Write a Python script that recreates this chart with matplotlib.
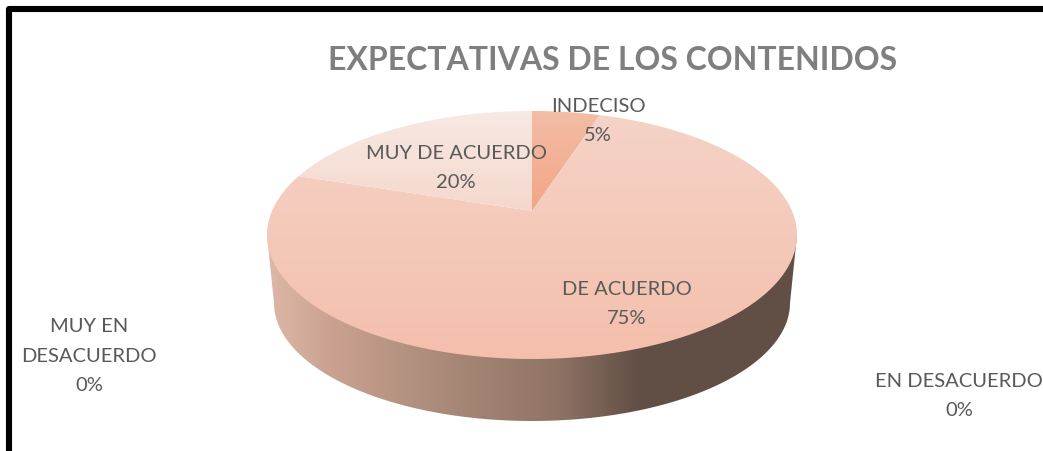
import numpy as np
import matplotlib
matplotlib.use("Agg")
import matplotlib.pyplot as plt
from matplotlib.colors import LinearSegmentedColormap
from matplotlib.patches import Polygon

plt.rcParams['font.family'] = ['Lato', 'DejaVu Sans']

# Chart data, in the order the slices go round clockwise from 12 o'clock
categories = ['INDECISO', 'DE ACUERDO', 'MUY DE ACUERDO', 'EN DESACUERDO', 'MUY EN DESACUERDO']
values = [5, 75, 20, 0, 0]
label_text = ['INDECISO\n5%', 'DE ACUERDO\n75%', 'MUY DE ACUERDO\n20%', 'EN DESACUERDO\n0%', 'MUY EN\nDESACUERDO\n0%']
title = 'EXPECTATIVAS DE LOS CONTENIDOS'

label_pos = [(598, 121), (627, 304), (456, 168), (959, 396), (89, 356)]
slice_colors = [('#F2BDA6', '#F4A585'), ('#F4D3C7', '#F5BFAC'), ('#F7E9E3', '#F5D8CD')]

# Pixel geometry of the tilted pie
CX, APEX_Y = 532, 211
RX, RY, PERSP = 260, 119.35, 0.1935
WALL_CY, WALL_RX, WALL_RY = 303, 258, 118


def project(angle):
    # angle is clockwise from the top of the disc, in radians
    u, v = np.sin(angle), np.cos(angle)
    d = 1 + PERSP * v
    return CX + RX * u / d, APEX_Y - RY * v / d


def gradient_fill(ax, xy, stops, vertical=True):
    xs, ys = xy[:, 0], xy[:, 1]
    cmap = LinearSegmentedColormap.from_list('g', stops)
    grad = np.linspace(0, 1, 256)
    grad = grad[:, None] if vertical else grad[None, :]
    im = ax.imshow(grad, cmap=cmap, vmin=0, vmax=1, aspect='auto', origin='upper',
                   extent=(xs.min(), xs.max(), ys.max(), ys.min()), interpolation='bilinear')
    clip = Polygon(xy, closed=True, transform=ax.transData, facecolor='none', edgecolor='none')
    ax.add_patch(clip)
    im.set_clip_path(clip)


fig = plt.figure(figsize=(10.43, 4.51), dpi=100, facecolor='white')
ax = fig.add_axes([0, 0, 1, 1])

# Side wall of the pie
t = np.linspace(-np.pi / 2, np.pi / 2, 200)
wall_x = CX + WALL_RX * np.sin(t)
wall_y = WALL_CY + WALL_RY * np.cos(t)
wall = np.vstack([[[CX - 265, 235]], np.column_stack([wall_x, wall_y]), [[CX + 265, 235]]])
wall_stops = [(0.0, '#DDB7A7'), (0.13, '#C9A08F'), (0.35, '#A78877'),
              (0.55, '#8F7365'), (0.70, '#624F45'), (1.0, '#614E45')]
gradient_fill(ax, wall, wall_stops, vertical=False)

# Top of the pie, one clipped gradient per slice
fractions = np.array(values) / np.sum(values)
edges = np.concatenate([[0], np.cumsum(fractions)]) * 2 * np.pi
for i, colors in enumerate(slice_colors):
    a = np.linspace(edges[i], edges[i + 1], 300)
    px, py = project(a)
    xy = np.vstack([[[CX, APEX_Y]], np.column_stack([px, py])])
    gradient_fill(ax, xy, list(colors))

# Frame
ax.plot([8.5, 8.5, 1060], [470, 8.5, 8.5], color='black', lw=4.4,
        solid_joinstyle='round', solid_capstyle='butt')

ax.text(613, 60, title, color='#7F7F7F', fontsize=23, fontweight='bold', ha='center', va='center')
for txt, (x, y) in zip(label_text, label_pos):
    ax.text(x, y, txt, color='#595959', fontsize=14.5, ha='center', va='center',
            linespacing=1.87, multialignment='center')

ax.set_xlim(0, 1043)
ax.set_ylim(451, 0)
ax.axis('off')

fig.savefig('out.png', dpi=100, facecolor='white')
